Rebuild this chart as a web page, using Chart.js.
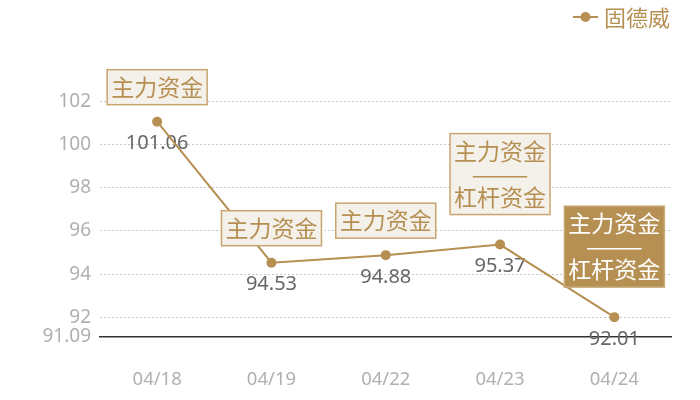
<!DOCTYPE html>
<html>
<head>
<meta charset="utf-8">
<script src="https://cdn.jsdelivr.net/npm/chart.js@4.4.1/dist/chart.umd.min.js"></script>
<style>
  html, body { margin: 0; padding: 0; background: #fff; }
  #wrap { width: 700px; height: 400px; }
</style>
</head>
<body>
<div id="wrap"><canvas id="priceChart"></canvas></div>
<script>
// data
const seriesName = '固德威';
const dates = ['04/18', '04/19', '04/22', '04/23', '04/24'];
const prices = [101.06, 94.53, 94.88, 95.37, 92.01];
const flags = ['主力资金', '主力资金', '主力资金', '主力资金\n———\n杠杆资金', '主力资金\n———\n杠杆资金'];
const yTicks = [91.09, 92, 94, 96, 98, 100, 102];

const brown = '#b68f52';
const cjk = '"Noto Sans CJK SC", "Noto Sans", sans-serif';
const num = '"Noto Sans", "Open Sans", sans-serif';

// value labels under the points
const valueLabels = {
    id: 'valueLabels',
    beforeDatasetsDraw(chart) {
        const ctx = chart.ctx;
        const meta = chart.getDatasetMeta(0);
        ctx.save();
        ctx.font = '20px ' + num;
        ctx.fillStyle = '#666';
        ctx.textAlign = 'center';
        ctx.textBaseline = 'middle';
        meta.data.forEach((pt, i) => {
            ctx.fillText(prices[i].toFixed(2), pt.x, pt.y + 22);
        });
        ctx.restore();
    }
};

// flag boxes above the points
const flagBoxes = {
    id: 'flagBoxes',
    afterDatasetsDraw(chart) {
        const ctx = chart.ctx;
        const meta = chart.getDatasetMeta(0);
        const lineH = 23;
        ctx.save();
        ctx.font = '23px ' + cjk;
        ctx.textAlign = 'center';
        ctx.textBaseline = 'middle';
        meta.data.forEach((pt, i) => {
            const lines = flags[i].split('\n');
            const w = Math.max(...lines.map(l => ctx.measureText(l).width)) + 8;
            const h = lines.length * lineH + 12;
            const gap = lines.length > 1 ? 30 : 17;
            const x0 = pt.x - w / 2;
            const y0 = pt.y - gap - h;
            const last = i === flags.length - 1;
            ctx.fillStyle = last ? brown : '#f4f0ea';
            ctx.fillRect(x0, y0, w, h);
            ctx.strokeStyle = last ? '#c9ab7a' : '#c8a570';
            ctx.lineWidth = 1.5;
            ctx.strokeRect(x0, y0, w, h);
            ctx.fillStyle = last ? '#fff' : brown;
            lines.forEach((l, k) => {
                ctx.fillText(l, pt.x, y0 + 6 + lineH * (k + 0.5));
            });
        });
        ctx.restore();
    }
};

// legend in the top right corner
const cornerLegend = {
    id: 'cornerLegend',
    afterDraw(chart) {
        const ctx = chart.ctx;
        ctx.save();
        ctx.strokeStyle = brown;
        ctx.fillStyle = brown;
        ctx.lineWidth = 2;
        ctx.beginPath();
        ctx.moveTo(573, 17);
        ctx.lineTo(598, 17);
        ctx.stroke();
        ctx.beginPath();
        ctx.arc(585.5, 17, 5, 0, Math.PI * 2);
        ctx.fill();
        ctx.font = '22px ' + cjk;
        ctx.textBaseline = 'middle';
        ctx.fillText(seriesName, 604, 18);
        ctx.restore();
    }
};

const ctx = document.getElementById('priceChart').getContext('2d');
new Chart(ctx, {
    type: 'line',
    data: {
        labels: dates,
        datasets: [{
            label: seriesName,
            data: prices,
            borderColor: brown,
            backgroundColor: brown,
            borderWidth: 2,
            pointRadius: 5,
            pointHoverRadius: 5,
            pointBackgroundColor: brown,
            pointBorderWidth: 0,
            tension: 0
        }]
    },
    options: {
        responsive: true,
        maintainAspectRatio: false,
        animation: false,
        layout: { padding: { top: 69, right: 28.5, left: 0, bottom: 0 } },
        plugins: {
            legend: { display: false },
            tooltip: { enabled: false }
        },
        scales: {
            x: {
                offset: true,
                grid: { display: false },
                border: { display: true, color: '#333', width: 1.5 },
                ticks: { color: '#b0b0b0', font: { size: 18.5, family: num }, padding: 24 },
                afterFit(scale) { scale.height = 63; }
            },
            y: {
                min: yTicks[0],
                max: 103.5,
                afterBuildTicks(scale) {
                    scale.ticks = yTicks.map(v => ({ value: v }));
                },
                afterFit(scale) { scale.width = 100; },
                grid: {
                    drawTicks: false,
                    color: c => c.index === 0 ? 'rgba(0,0,0,0)' : '#c8c8c8',
                    lineWidth: 1
                },
                border: { display: false, dash: [2, 2] },
                ticks: {
                    color: '#b0b0b0',
                    font: { size: 19, family: num },
                    padding: 9,
                    callback: v => v === yTicks[0] ? v.toFixed(2) : String(v)
                }
            }
        }
    },
    plugins: [valueLabels, flagBoxes, cornerLegend]
});
</script>
</body>
</html>
